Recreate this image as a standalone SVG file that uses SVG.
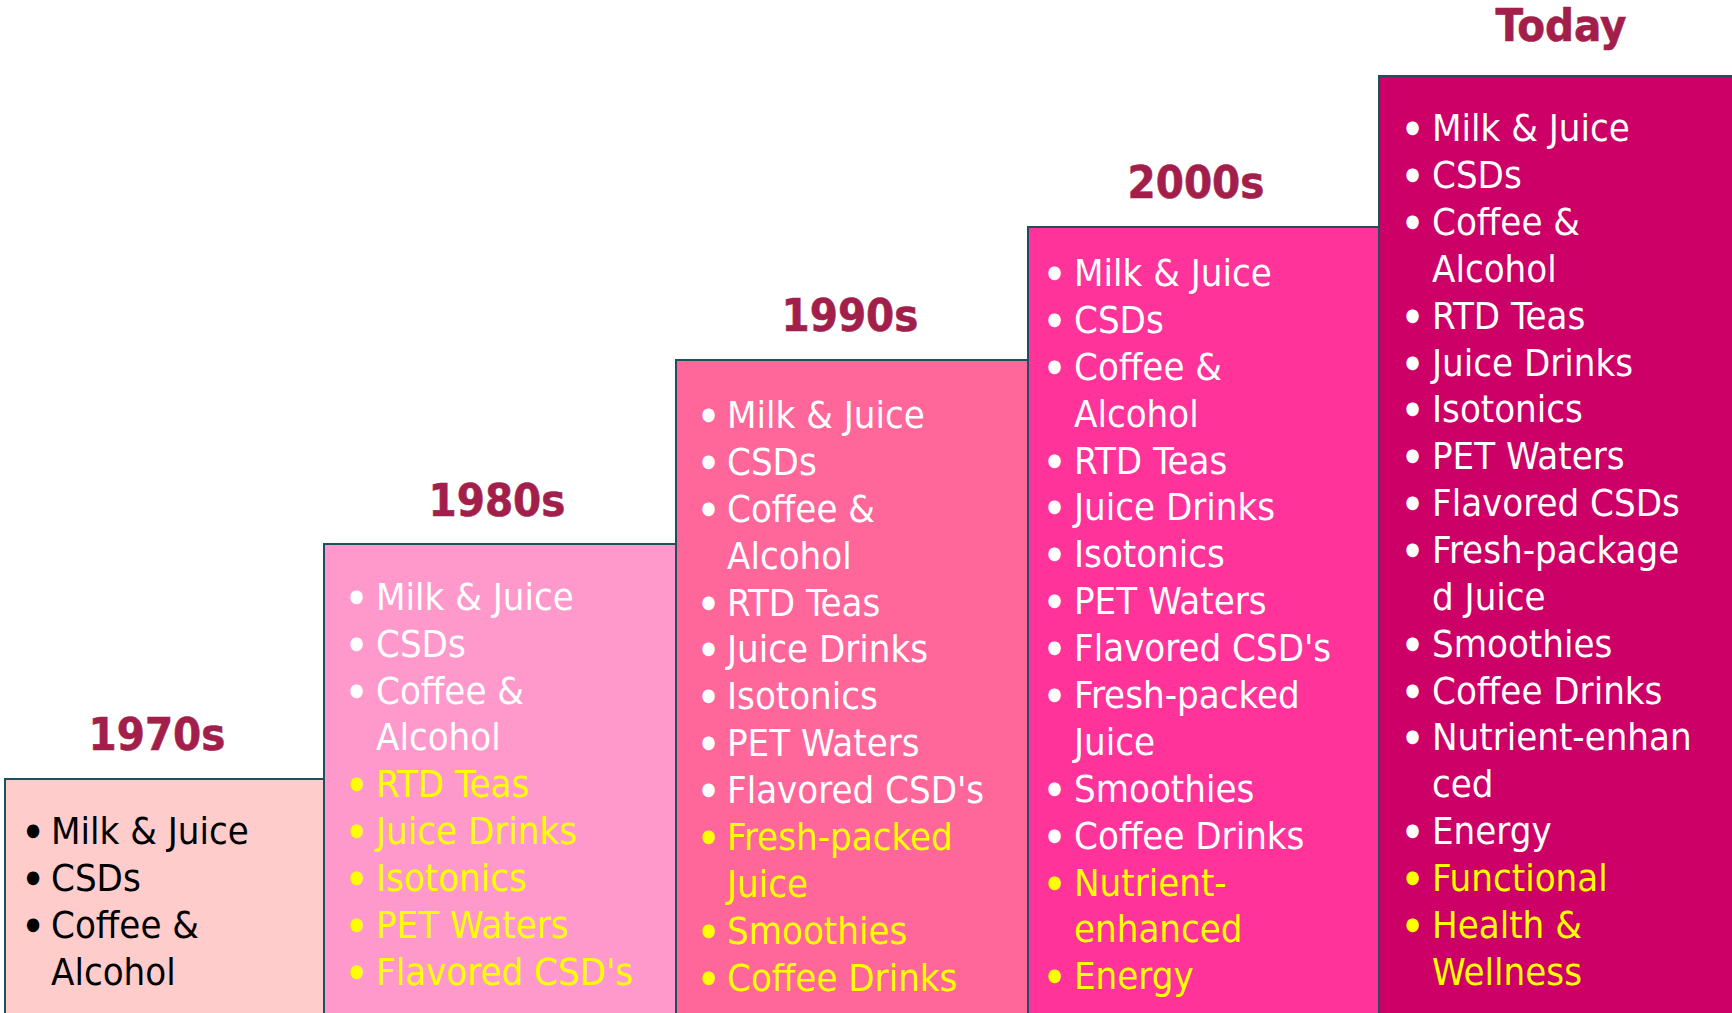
<svg xmlns="http://www.w3.org/2000/svg" width="1732" height="1013" viewBox="0 0 1732 1013">
  <style>
    .box { stroke: #1E4F5E; stroke-width: 2; }
    .hd { font-family: "DejaVu Sans Condensed", "DejaVu Sans", sans-serif; font-weight: bold; font-size: 45px; fill: #A31F4B; text-anchor: middle; stroke: #A31F4B; stroke-width: 0.6; }
    .it { font-family: "DejaVu Sans Condensed", "DejaVu Sans", sans-serif; font-size: 38px; }
    .b { font-size: 18px; }
    .k { fill: #000000; }
    .w { fill: #FFFFFF; }
    .y { fill: #FFFF00; }
  </style>
  <rect width="1732" height="1013" fill="#FFFFFF"/>

  <!-- 1970s step -->
  <g id="step-1970s">
    <rect class="box" x="5" y="779" width="319" height="260" fill="#FFCCCC"/>
    <text class="hd" x="157" y="750">1970s</text>
    <g class="it k">
      <text y="844"><tspan class="b" x="26" dy="-8">●</tspan><tspan x="51" dy="8">Milk &amp; Juice</tspan></text>
      <text y="891"><tspan class="b" x="26" dy="-8">●</tspan><tspan x="51" dy="8">CSDs</tspan></text>
      <text y="938"><tspan class="b" x="26" dy="-8">●</tspan><tspan x="51" dy="8">Coffee &amp;</tspan></text>
      <text y="985"><tspan x="51">Alcohol</tspan></text>
    </g>
  </g>

  <!-- 1980s step -->
  <g id="step-1980s">
    <rect class="box" x="324" y="544" width="352" height="495" fill="#FF99CC"/>
    <text class="hd" x="497" y="516">1980s</text>
    <g class="it w">
      <text y="610"><tspan class="b" x="349.5" dy="-8">●</tspan><tspan x="376" dy="8">Milk &amp; Juice</tspan></text>
      <text y="657"><tspan class="b" x="349.5" dy="-8">●</tspan><tspan x="376" dy="8">CSDs</tspan></text>
      <text y="704"><tspan class="b" x="349.5" dy="-8">●</tspan><tspan x="376" dy="8">Coffee &amp;</tspan></text>
      <text y="750"><tspan x="376">Alcohol</tspan></text>
    </g>
    <g class="it y">
      <text y="797"><tspan class="b" x="349.5" dy="-8">●</tspan><tspan x="376" dy="8">RTD Teas</tspan></text>
      <text y="844"><tspan class="b" x="349.5" dy="-8">●</tspan><tspan x="376" dy="8">Juice Drinks</tspan></text>
      <text y="891"><tspan class="b" x="349.5" dy="-8">●</tspan><tspan x="376" dy="8">Isotonics</tspan></text>
      <text y="938"><tspan class="b" x="349.5" dy="-8">●</tspan><tspan x="376" dy="8">PET Waters</tspan></text>
      <text y="985"><tspan class="b" x="349.5" dy="-8">●</tspan><tspan x="376" dy="8">Flavored CSD's</tspan></text>
    </g>
  </g>

  <!-- 1990s step -->
  <g id="step-1990s">
    <rect class="box" x="676" y="360" width="352" height="680" fill="#FF6699"/>
    <text class="hd" x="850" y="331">1990s</text>
    <g class="it w">
      <text y="428"><tspan class="b" x="701.5" dy="-8">●</tspan><tspan x="727" dy="8">Milk &amp; Juice</tspan></text>
      <text y="475"><tspan class="b" x="701.5" dy="-8">●</tspan><tspan x="727" dy="8">CSDs</tspan></text>
      <text y="522"><tspan class="b" x="701.5" dy="-8">●</tspan><tspan x="727" dy="8">Coffee &amp;</tspan></text>
      <text y="569"><tspan x="727">Alcohol</tspan></text>
      <text y="616"><tspan class="b" x="701.5" dy="-8">●</tspan><tspan x="727" dy="8">RTD Teas</tspan></text>
      <text y="662"><tspan class="b" x="701.5" dy="-8">●</tspan><tspan x="727" dy="8">Juice Drinks</tspan></text>
      <text y="709"><tspan class="b" x="701.5" dy="-8">●</tspan><tspan x="727" dy="8">Isotonics</tspan></text>
      <text y="756"><tspan class="b" x="701.5" dy="-8">●</tspan><tspan x="727" dy="8">PET Waters</tspan></text>
      <text y="803"><tspan class="b" x="701.5" dy="-8">●</tspan><tspan x="727" dy="8">Flavored CSD's</tspan></text>
    </g>
    <g class="it y">
      <text y="850"><tspan class="b" x="701.5" dy="-8">●</tspan><tspan x="727" dy="8">Fresh-packed</tspan></text>
      <text y="897"><tspan x="727">Juice</tspan></text>
      <text y="944"><tspan class="b" x="701.5" dy="-8">●</tspan><tspan x="727" dy="8">Smoothies</tspan></text>
      <text y="991"><tspan class="b" x="701.5" dy="-8">●</tspan><tspan x="727" dy="8">Coffee Drinks</tspan></text>
    </g>
  </g>

  <!-- 2000s step -->
  <g id="step-2000s">
    <rect class="box" x="1028" y="227" width="351" height="815" fill="#FF3399"/>
    <text class="hd" x="1196" y="198">2000s</text>
    <g class="it w">
      <text y="286"><tspan class="b" x="1047.5" dy="-8">●</tspan><tspan x="1074" dy="8">Milk &amp; Juice</tspan></text>
      <text y="333"><tspan class="b" x="1047.5" dy="-8">●</tspan><tspan x="1074" dy="8">CSDs</tspan></text>
      <text y="380"><tspan class="b" x="1047.5" dy="-8">●</tspan><tspan x="1074" dy="8">Coffee &amp;</tspan></text>
      <text y="427"><tspan x="1074">Alcohol</tspan></text>
      <text y="474"><tspan class="b" x="1047.5" dy="-8">●</tspan><tspan x="1074" dy="8">RTD Teas</tspan></text>
      <text y="520"><tspan class="b" x="1047.5" dy="-8">●</tspan><tspan x="1074" dy="8">Juice Drinks</tspan></text>
      <text y="567"><tspan class="b" x="1047.5" dy="-8">●</tspan><tspan x="1074" dy="8">Isotonics</tspan></text>
      <text y="614"><tspan class="b" x="1047.5" dy="-8">●</tspan><tspan x="1074" dy="8">PET Waters</tspan></text>
      <text y="661"><tspan class="b" x="1047.5" dy="-8">●</tspan><tspan x="1074" dy="8">Flavored CSD's</tspan></text>
      <text y="708"><tspan class="b" x="1047.5" dy="-8">●</tspan><tspan x="1074" dy="8">Fresh-packed</tspan></text>
      <text y="755"><tspan x="1074">Juice</tspan></text>
      <text y="802"><tspan class="b" x="1047.5" dy="-8">●</tspan><tspan x="1074" dy="8">Smoothies</tspan></text>
      <text y="849"><tspan class="b" x="1047.5" dy="-8">●</tspan><tspan x="1074" dy="8">Coffee Drinks</tspan></text>
    </g>
    <g class="it y">
      <text y="896"><tspan class="b" x="1047.5" dy="-8">●</tspan><tspan x="1074" dy="8">Nutrient-</tspan></text>
      <text y="942"><tspan x="1074">enhanced</tspan></text>
      <text y="989"><tspan class="b" x="1047.5" dy="-8">●</tspan><tspan x="1074" dy="8">Energy</tspan></text>
    </g>
  </g>

  <!-- Today step -->
  <g id="step-today">
    <rect class="box" x="1379" y="76" width="360" height="970" fill="#CC0066"/>
    <text class="hd" x="1561" y="41">Today</text>
    <g class="it w">
      <text y="141"><tspan class="b" x="1405.5" dy="-8">●</tspan><tspan x="1432" dy="8">Milk &amp; Juice</tspan></text>
      <text y="188"><tspan class="b" x="1405.5" dy="-8">●</tspan><tspan x="1432" dy="8">CSDs</tspan></text>
      <text y="235"><tspan class="b" x="1405.5" dy="-8">●</tspan><tspan x="1432" dy="8">Coffee &amp;</tspan></text>
      <text y="282"><tspan x="1432">Alcohol</tspan></text>
      <text y="329"><tspan class="b" x="1405.5" dy="-8">●</tspan><tspan x="1432" dy="8">RTD Teas</tspan></text>
      <text y="376"><tspan class="b" x="1405.5" dy="-8">●</tspan><tspan x="1432" dy="8">Juice Drinks</tspan></text>
      <text y="422"><tspan class="b" x="1405.5" dy="-8">●</tspan><tspan x="1432" dy="8">Isotonics</tspan></text>
      <text y="469"><tspan class="b" x="1405.5" dy="-8">●</tspan><tspan x="1432" dy="8">PET Waters</tspan></text>
      <text y="516"><tspan class="b" x="1405.5" dy="-8">●</tspan><tspan x="1432" dy="8">Flavored CSDs</tspan></text>
      <text y="563"><tspan class="b" x="1405.5" dy="-8">●</tspan><tspan x="1432" dy="8">Fresh-package</tspan></text>
      <text y="610"><tspan x="1432">d Juice</tspan></text>
      <text y="657"><tspan class="b" x="1405.5" dy="-8">●</tspan><tspan x="1432" dy="8">Smoothies</tspan></text>
      <text y="704"><tspan class="b" x="1405.5" dy="-8">●</tspan><tspan x="1432" dy="8">Coffee Drinks</tspan></text>
      <text y="750"><tspan class="b" x="1405.5" dy="-8">●</tspan><tspan x="1432" dy="8">Nutrient-enhan</tspan></text>
      <text y="797"><tspan x="1432">ced</tspan></text>
      <text y="844"><tspan class="b" x="1405.5" dy="-8">●</tspan><tspan x="1432" dy="8">Energy</tspan></text>
    </g>
    <g class="it y">
      <text y="891"><tspan class="b" x="1405.5" dy="-8">●</tspan><tspan x="1432" dy="8">Functional</tspan></text>
      <text y="938"><tspan class="b" x="1405.5" dy="-8">●</tspan><tspan x="1432" dy="8">Health &amp;</tspan></text>
      <text y="985"><tspan x="1432">Wellness</tspan></text>
    </g>
  </g>

  <!-- no connectors in this chart -->
  <g id="connectors"/>
</svg>
